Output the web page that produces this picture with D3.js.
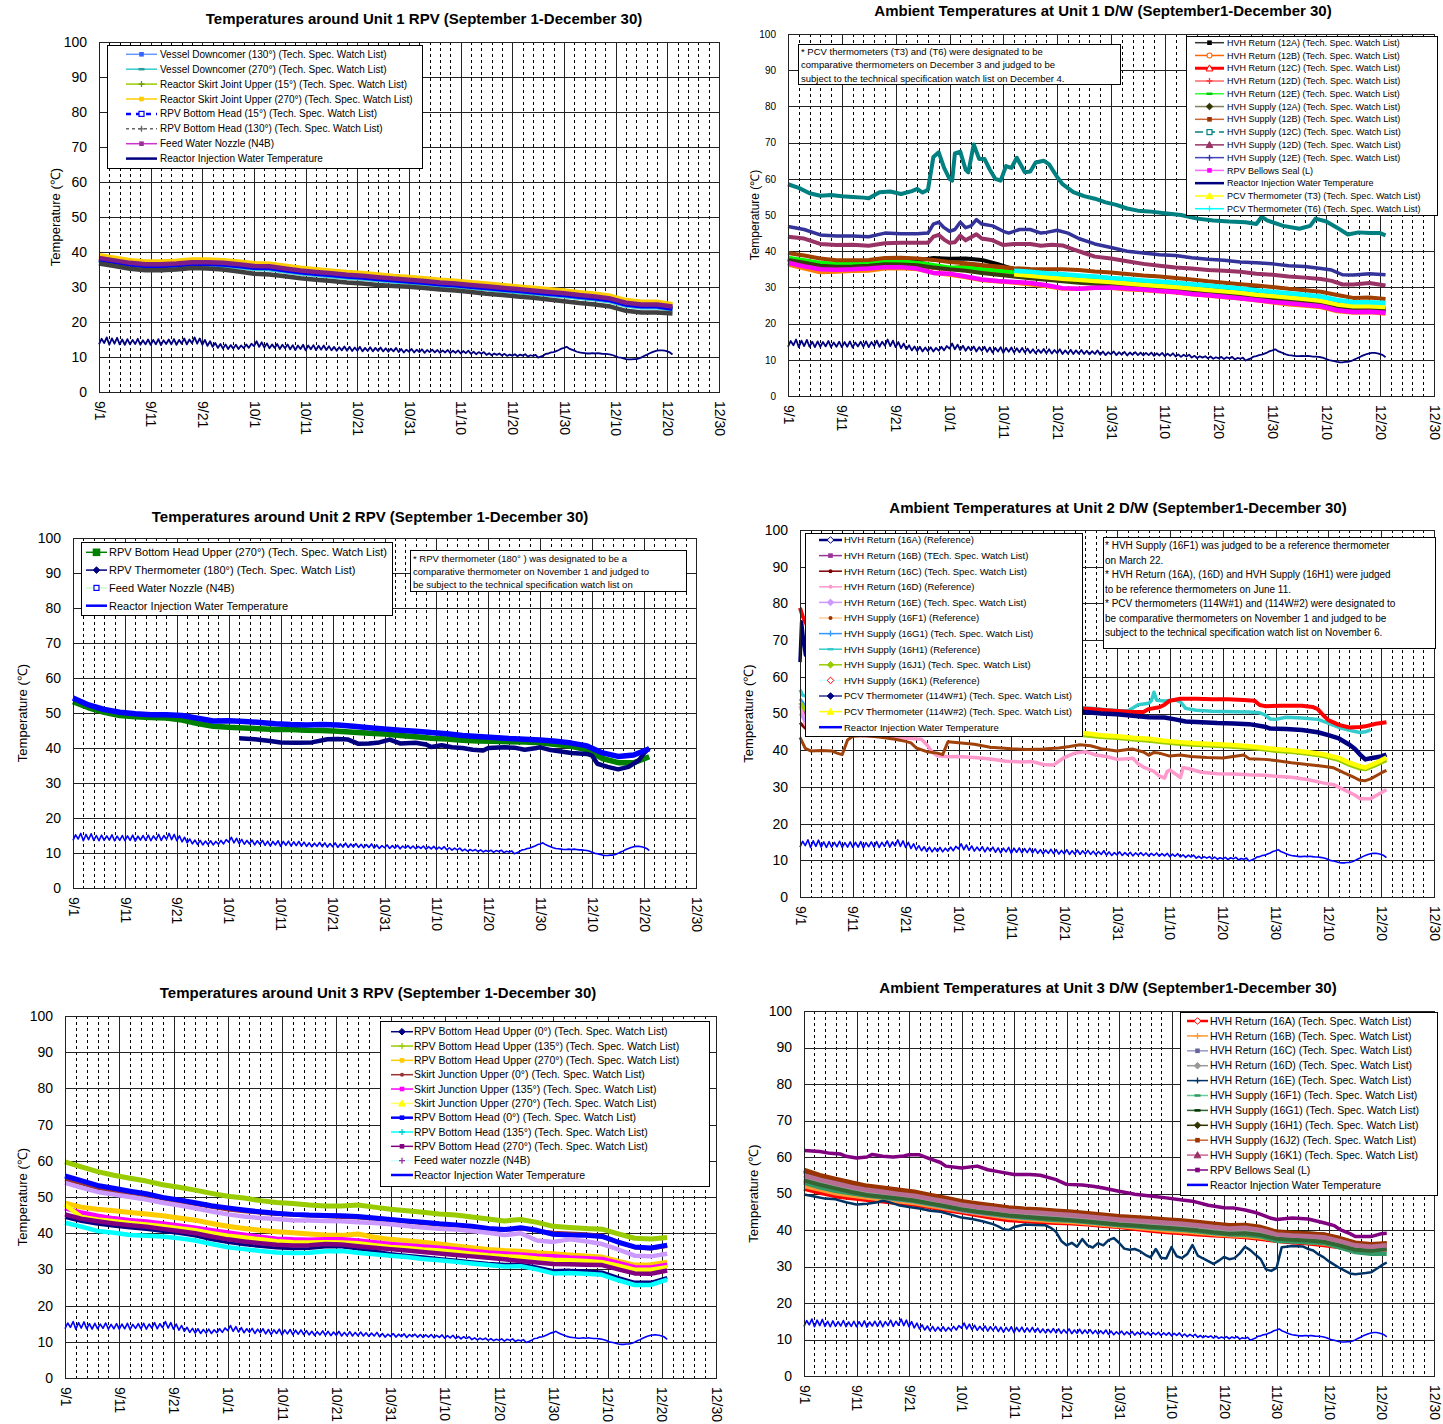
<!DOCTYPE html>
<html>
<head>
<meta charset="utf-8">
<title>Temperatures around Units 1-3</title>
<script src="https://d3js.org/d3.v7.min.js"></script>
<style>
  body { margin: 0; background: #fff; }
  svg { display: block; font-family: "Liberation Sans", Arial, sans-serif; }
</style>
</head>
<body>
<div id="chart"></div>
<script>
// ---- shared axis labels ----
const tickLabels = ["9/1","9/11","9/21","10/1","10/11","10/21","10/31","11/10","11/20","11/30","12/10","12/20","12/30"];
const yTicks = [0,10,20,30,40,50,60,70,80,90,100];
// sample days (days after 9/1) for most series
const days3 = [0,3,6,9,12,15,18,21,24,27,30,33,36,39,42,45,48,51,54,57,60,63,66,69,72,75,78,81,84,87,90,93,96,99,102,105,108,111];

// reactor injection water temperature, every half day from 9/1 (same gauge in every panel)
const injWater = [
 13.6,15.2, 14.0,15.6, 13.5,15.3, 13.8,15.5, 13.6,15.0, 13.5,15.1, 13.6,14.9, 13.7,15.2, 13.5,14.8, 13.6,15.0,
 13.5,14.9, 13.6,15.1, 13.4,14.8, 13.7,15.0, 13.6,15.1, 13.5,14.9, 13.8,15.3, 13.6,15.0, 13.9,15.6, 13.8,15.3,
 13.5,14.9, 13.2,14.5, 12.9,14.0, 12.6,13.7, 12.4,13.6, 12.3,13.4, 12.4,13.5, 12.3,13.3, 12.5,13.6, 12.6,13.8,
 13.1,14.5, 12.9,14.2, 12.7,13.9, 12.5,13.6, 12.6,13.7, 12.3,13.5, 12.5,13.6, 12.2,13.4, 12.0,13.3, 12.3,13.5,
 11.9,13.3, 12.2,13.4, 12.0,13.2, 12.1,13.3, 12.0,13.1, 11.9,12.9, 11.8,12.8, 11.9,13.0, 11.8,12.9, 11.7,12.7,
 11.8,12.9, 11.6,12.6, 11.7,12.8, 11.6,12.6, 11.7,12.7, 11.6,12.5, 11.5,12.4, 11.6,12.6, 11.4,12.3, 11.3,12.1,
 11.5,12.3, 11.3,12.1, 11.4,12.2, 11.2,12.0, 11.4,12.1, 11.3,12.0, 11.2,11.9, 11.3,12.0, 11.1,11.8, 11.2,11.9,
 11.0,11.7, 11.1,11.8, 10.9,11.5, 10.8,11.4, 10.9,11.4, 10.6,11.1, 10.5,11.0, 10.6,11.0, 10.4,10.9, 10.3,10.7,
 10.4,10.8, 10.2,10.7, 10.4,10.8, 10.1,10.5, 10.3,10.6, 9.8,10.1, 10.4,10.9, 11.0,11.3, 11.4,11.7, 12.0,12.4,
 12.6,12.9, 12.4,12.1, 11.8,11.5, 11.3,11.2, 11.1,11.0, 11.0,11.1, 11.0,11.1, 11.0,10.9, 10.9,10.8, 10.7,10.5,
 10.2,9.9, 9.8,9.6, 9.4,9.3, 9.3,9.4, 9.4,9.6, 9.9,10.3, 10.6,11.0, 11.3,11.6, 11.8,11.9, 11.9,11.8,
 11.6,11.3, 10.7
];

// ---- Unit 1 RPV ----
const u1Downcomer130 = [37.6,36.9,36.2,35.8,35.8,36.0,36.4,36.4,36.2,35.8,35.3,35.2,34.6,34.0,33.6,33.2,32.8,32.5,32.1,31.7,31.4,31.0,30.6,30.3,29.9,29.5,29.1,28.7,28.3,27.9,27.5,27.0,26.6,26.0,24.8,24.3,24.3,23.7];
const u1Downcomer270 = [37.5,36.8,36.1,35.7,35.7,35.9,36.3,36.3,36.1,35.7,35.2,35.1,34.5,33.9,33.5,33.1,32.7,32.4,32.0,31.6,31.3,30.9,30.5,30.2,29.8,29.4,29.0,28.6,28.2,27.8,27.4,26.9,26.5,25.9,24.7,24.2,24.2,23.6];
const u1Skirt15 = [38.1,37.4,36.7,36.3,36.3,36.5,36.9,36.9,36.7,36.3,35.8,35.7,35.1,34.5,34.1,33.7,33.3,33.0,32.6,32.2,31.9,31.5,31.1,30.8,30.4,30.0,29.6,29.2,28.8,28.4,28.0,27.5,27.1,26.5,25.3,24.8,24.8,24.1];
const u1Skirt270 = [39.0,38.3,37.6,37.2,37.2,37.4,37.8,37.8,37.6,37.2,36.7,36.6,36.0,35.4,35.0,34.6,34.2,33.9,33.5,33.1,32.8,32.4,32.0,31.7,31.3,30.9,30.5,30.1,29.7,29.3,28.9,28.4,28.0,27.4,26.2,25.7,25.7,25.0];
const u1BottomHead15 = [37.8,37.1,36.4,36.0,36.0,36.2,36.6,36.6,36.4,36.0,35.5,35.4,34.8,34.2,33.8,33.4,33.0,32.7,32.3,31.9,31.6,31.2,30.8,30.5,30.1,29.7,29.3,28.9,28.5,28.1,27.7,27.2,26.8,26.2,25.0,24.5,24.5,23.8];
const u1BottomHead130 = [36.7,36.0,35.2,34.8,34.8,35.0,35.4,35.3,35.0,34.4,33.8,33.6,33.1,32.5,32.1,31.7,31.3,31.0,30.6,30.3,30.1,29.7,29.3,29.0,28.6,28.1,27.7,27.3,26.9,26.4,25.9,25.4,25.0,24.4,23.2,22.7,22.7,22.4];
const u1FeedWater = [38.3,37.6,36.9,36.5,36.5,36.7,37.1,37.1,36.9,36.5,36.0,35.9,35.3,34.7,34.3,33.9,33.5,33.2,32.8,32.4,32.1,31.7,31.3,31.0,30.6,30.2,29.8,29.4,29.0,28.6,28.2,27.7,27.3,26.7,25.5,25.0,25.0,24.4];

// ---- Unit 1 D/W ----
const u1Ret12A = [38.0,37.2,36.5,36.2,36.3,36.5,37.0,36.8,37.4,38.1,37.9,38.0,37.6,36.4,35.0,34.2,33.6,33.1,32.7,32.3,31.9,31.5,31.1,30.8,30.4,30.0,29.5,29.1,28.7,28.2,27.7,27.3,26.9,26.4,25.4,24.6,24.6,24.2];
const u1Ret12B = [36.3,35.2,34.2,34.3,34.5,34.6,35.2,35.3,35.0,34.0,33.5,32.8,32.0,31.6,31.3,30.8,30.3,29.6,29.6,29.8,29.8,29.4,29.2,28.9,28.6,28.1,27.7,27.3,26.9,26.4,25.8,25.3,24.9,24.5,23.4,23.0,23.1,22.7];
const u1Ret12C = [37.8,37.0,36.3,36.0,36.0,36.2,36.6,36.5,36.2,35.6,35.2,35.8,35.6,35.2,34.0,33.5,33.0,32.6,32.2,31.9,31.5,31.1,30.7,30.4,30.0,29.6,29.1,28.7,28.3,27.8,27.3,26.9,26.5,26.0,25.0,24.2,24.2,23.9];
const u1Ret12D = [37.5,36.7,36.0,35.7,35.7,35.9,36.3,36.2,35.9,35.3,34.9,35.0,34.8,34.4,33.6,33.2,32.7,32.3,31.9,31.6,31.2,30.8,30.4,30.1,29.7,29.3,28.8,28.4,28.0,27.5,27.0,26.6,26.2,25.7,24.7,23.9,23.9,23.6];
const u1Ret12E = [38.2,37.5,36.8,36.5,36.5,36.7,37.2,37.2,36.8,36.2,35.5,35.5,35.0,34.6,34.2,33.8,33.3,32.9,32.5,32.2,31.8,31.4,31.0,30.7,30.3,29.9,29.4,29.0,28.6,28.1,27.6,27.2,26.8,26.3,25.3,24.6,24.6,24.3];
const u1Sup12A = [37.6,36.8,36.0,35.7,35.8,36.0,36.4,36.3,36.1,35.5,35.0,34.6,34.0,33.5,33.0,32.5,32.1,31.7,31.3,31.0,30.7,30.3,29.9,29.6,29.2,28.8,28.4,28.0,27.6,27.1,26.7,26.3,25.9,25.4,24.4,23.9,23.9,23.6];
const u1Sup12B = [39.5,38.8,38.0,37.5,37.5,37.6,38.1,38.2,38.0,37.6,37.0,36.7,36.2,35.8,35.3,35.1,35.0,35.0,34.8,34.4,34.1,33.7,33.3,33.0,32.6,32.2,31.7,31.3,30.9,30.5,30.1,29.6,29.2,28.8,27.9,27.1,27.2,26.8];
const u1Sup12C = [[0,58.5],[2,57.5],[4,56],[6,55.3],[8,55.5],[10,55.2],[12,55.0],[14,54.8],[15,54.6],[17,56.3],[19,56.5],[21,55.8],[23,56.6],[24,57.2],[25,56.2],[26,57],[27,66],[28,67.3],[29,63],[30,60],[30.5,59.5],[31,67],[32,67.5],[33,62.5],[33.5,61.8],[34.5,69.5],[35.5,65.5],[36.5,65.5],[37.5,62.5],[38.5,60],[39.5,59.5],[40.5,63.5],[41.5,63],[42.5,65.8],[44,61.8],[45,62],[46,64.5],[47.5,65],[48.5,64],[50,60.5],[51,58.5],[53,56.3],[55,55.2],[57,54.5],[59,53.5],[61,52.8],[63,51.8],[65,51.2],[67,51],[70,50.5],[73,50],[76,49],[79,48.5],[82,48.2],[85,48],[87,47.5],[88,49.5],[89,48.5],[92,47],[95,46.2],[97,47],[98,49],[100,48.2],[102,46.5],[104,44.6],[106,45.2],[108,45],[110,45],[111,44.4]];
const u1Sup12D = [[0,44],[3,43.5],[6,42],[9,41.7],[12,41.8],[15,41.5],[18,42.2],[21,42.3],[24,42.3],[26,42.3],[27,44],[28,44.5],[29,43.2],[30,42.3],[31,42.5],[32,44.3],[33,43],[35,44.7],[36,43.5],[38,43],[40,41.7],[42,42],[45,42],[47,41.5],[49,41.8],[51,41.6],[53,40.5],[55,39.5],[57,38.5],[60,38],[63,37.2],[66,36.5],[69,36],[72,35.5],[75,35.2],[78,34.8],[81,34.6],[84,34.3],[87,33.8],[90,33.5],[93,33],[96,32.7],[99,32.3],[101,31.8],[103,30.8],[105,30.8],[108,31.2],[111,30.5]];
const u1Sup12E = [[0,46.8],[3,46],[6,44.5],[9,44.2],[12,44.2],[15,44],[18,45],[21,44.8],[24,44.8],[26,45],[27,47.5],[28,48],[29,46.5],[30,45.5],[31,46],[32,48],[33,46.5],[34,47],[35,48.7],[36,47.5],[38,47],[40,45.5],[41,45],[43,46],[45,46],[47,45],[48,45.2],[50,45.8],[52,45],[54,43.5],[57,42],[60,41],[63,40],[66,39.5],[69,39],[72,38.8],[75,38.2],[78,37.8],[81,37.5],[84,37],[87,36.8],[90,36.5],[93,36],[96,35.8],[99,35.2],[101,34.8],[103,33.5],[105,33.4],[108,33.8],[111,33.5]];
const u1Bellows = [36.8,35.8,35.0,34.9,35.0,35.2,35.6,35.6,35.2,34.0,33.8,33.0,32.2,31.8,31.5,31.2,30.6,29.8,29.6,29.9,30.0,29.7,29.4,29.0,28.7,28.2,27.8,27.4,27.0,26.5,26.0,25.6,25.2,24.8,23.7,23.2,23.3,23.0];
const u1PcvT3 = [33.6,33.2,32.8,32.4,32.1,31.8,31.5,31.1,30.7,30.4,30.1,29.7,29.3,28.9,28.5,28.0,27.6,27.2,26.8,26.3,25.3,24.8,24.8,24.6]; // from 10/13
const u1PcvT6 = [34.6,34.3,33.9,33.6,33.3,33.0,32.6,32.3,31.9,31.6,31.3,30.9,30.5,30.1,29.7,29.2,28.8,28.4,28.0,27.5,26.5,25.9,25.9,25.7]; // from 10/13

// ---- Unit 2 RPV ----
const u2BottomHeadUpper270 = [53.2,51.5,50.2,49.3,48.9,48.7,48.6,48.0,47.0,46.2,45.9,45.7,45.5,45.3,45.3,45.1,45.0,44.8,44.5,44.2,44.0,43.6,43.2,42.8,42.6,42.2,42.0,41.9,41.8,41.7,41.5,41.0,40.5,39.5,37.0,35.8,35.8,37.5];
const u2Thermo180 = [[32,42.8],[35,42.5],[38,42.0],[40,41.6],[43,41.5],[46,41.6],[49,42.5],[51,42.6],[53,42.4],[55,41.2],[57,41.3],[59,41.6],[61,42.4],[63,41.3],[66,41.5],[68,41.0],[69,40.3],[71,40.8],[73,40.2],[75,40.0],[77,39.5],[79,39.3],[80,40.0],[83,40.2],[85,40.1],[87,39.5],[89,39.9],[90,40.2],[92,39.4],[94,39.0],[96,38.6],[99,38.3],[100,37.8],[101,35.5],[103,34.6],[105,33.9],[107,34.6],[109,36.5],[110,38.5],[111,40.0]];
const u2FeedWater = [54.3,52.3,51.0,50.2,49.8,49.5,49.5,49.3,48.5,47.7,47.8,47.6,47.3,46.9,46.7,46.6,46.7,46.6,46.2,45.8,45.4,45.1,44.8,44.4,44.1,43.6,43.3,43.0,42.7,42.5,42.3,41.9,41.4,40.6,38.6,37.6,38.0,39.8];

// ---- Unit 2 D/W ----
const u2Ret16A = [[0,64],[0.3,75],[0.6,71],[1,66],[4,60],[10,56],[20,53],[30,52],[40,51.5],[45,51.2]];
const u2Ret16B = [[0,52],[1,50],[10,47],[20,46],[30,46],[40,45.5],[45,45.3]];
const u2Ret16C = [[0,47.5],[1,46],[10,45],[20,45],[30,45],[40,45],[45,44.8]];
const u2Ret16D = [[0,52],[0.5,50],[1,47],[3,45],[6,44.5],[9,44.2],[11,44],[14,43.8],[18,43.5],[21,43.2],[23,43],[24,41.5],[25,39.5],[26,38.5],[28,38.2],[30,38.3],[33,38.0],[36,37.6],[39,37.0],[42,36.8],[44,36.9],[46,36.1],[48,36.0],[49,37.0],[50,38.0],[52,39.2],[54,39.6],[56,38.7],[58,38.3],[60,37.5],[62,37.7],[63,37.8],[64,36.3],[65,35.4],[67,34.2],[68,33.0],[69,32.4],[69.5,34.2],[70,34.6],[71,33.6],[72,32.5],[72.5,35.3],[74,34.8],[76,34.0],[79,33.6],[82,33.5],[85,33.3],[88,33.2],[90,32.9],[93,32.6],[96,32.0],[99,31.1],[101,30.6],[103,29.2],[105,27.8],[106,26.8],[108,26.8],[110,28.4],[111,29.3]];
const u2Ret16E = [[0,50],[1,48],[10,46.5],[20,46],[30,45.8],[40,45.5],[48,45.0],[51,44.8],[52,44.6]];
const u2Sup16F1 = [[0,43.5],[0.5,42],[1,40.5],[2,39.8],[4,39.9],[6,39.8],[7,39.2],[8,38.8],[9,42.8],[10,43.8],[12,44],[15,43.6],[18,43],[20,42.4],[21,42],[22,40.6],[24,39.6],[26,39.2],[27,38.8],[28,42.3],[30,42.0],[33,41.6],[36,40.8],[40,40.4],[43,40.2],[46,40.3],[49,40.6],[51,41.0],[53,41.5],[55,41.2],[57,40.4],[60,39.8],[62,40.2],[63,40.3],[65,39.5],[66,38.6],[67,39.4],[68,39.2],[70,38.4],[72,38.7],[74,38.3],[77,38.0],[80,37.9],[83,38.5],[84,38.7],[85,37.7],[88,37.5],[90,37.2],[93,36.6],[96,36.1],[99,35.6],[101,35.2],[103,33.8],[105,32.5],[106,31.8],[107,31.7],[108,32.2],[110,33.8],[111,34.5]];
const u2Sup16G1 = [[0,54],[1,52],[10,49],[20,48],[30,47],[40,46.5],[45,46]];
const u2Sup16H1 = [[0,56.5],[0.5,55],[3,54],[20,53],[40,52],[51,51.6],[55,51.4],[58,51],[60,50.8],[62,50.7],[63,51.5],[64,52.4],[66,52.8],[66.5,53.5],[67,55.8],[67.5,53.6],[69,53.4],[71,53.7],[72,53.2],[73,51.4],[75,50.9],[78,50.6],[82,50.5],[85,50.4],[87,50.2],[88,49.6],[89,48.5],[90,48.4],[92,49],[95,48.8],[98,48.4],[100,47.4],[102,46.2],[104,45.4],[106,44.8],[107,45],[108,45.5]];
const u2Sup16J1 = [[0,53],[1,51],[5,48],[15,47],[25,46],[35,45.5],[42,44.3],[45,44.3],[48,44.2],[51,44.5],[54,44.0],[57,43.6],[60,43.3],[63,42.9],[66,42.6],[69,42.1],[72,41.7],[75,41.4],[78,41.2],[81,41.0],[84,40.7],[87,40.3],[90,39.8],[93,39.5],[96,39.0],[99,38.4],[102,37.3],[104,36.0],[106,35.0],[107,34.8],[109,35.9],[111,37.3]];
const u2Sup16K1 = [[0,78.8],[0.5,76.5],[2,72],[5,66],[10,60],[15,57],[20,55],[30,53],[40,52],[51,51.8],[52,51.5],[55,51.2],[58,50.9],[60,50.7],[63,50.4],[65,50.4],[66,51.2],[68,51.7],[69,52.4],[70,53.5],[72,54.0],[75,54.0],[78,53.9],[81,53.9],[84,53.7],[86,53.5],[87,52.3],[88,52.0],[91,52.1],[95,52.1],[97,51.8],[98,51.2],[99,49.6],[100,48.2],[102,46.9],[104,46.2],[106,46.3],[107,46.5],[109,47.2],[111,47.6]];
const u2Pcv114W1 = [[45,51.2],[48,51.0],[51,50.8],[54,50.4],[57,50.0],[60,49.8],[63,49.4],[66,49.0],[69,48.9],[71,48.4],[73,47.8],[76,47.6],[79,47.4],[82,47.3],[85,47.1],[88,46.4],[89,45.9],[92,45.8],[95,45.5],[98,44.9],[100,44.1],[102,43.2],[104,41.5],[105,40.4],[106,38.8],[107,37.5],[108,37.8],[110,38.3],[111,38.8]];
const u2Pcv114W2 = [[45,45.6],[48,45.4],[51,45.2],[54,44.6],[57,44.1],[60,43.8],[63,43.4],[66,43.1],[69,42.6],[72,42.2],[75,41.9],[78,41.7],[81,41.5],[84,41.2],[87,40.8],[90,40.3],[93,40.0],[96,39.5],[99,38.9],[102,37.9],[104,36.6],[106,35.6],[107,35.3],[109,36.5],[111,38.0]];

// ---- Unit 3 RPV ----
const u3BHU0 = [44.3,43.2,42.5,41.9,41.4,41.0,40.5,39.9,39.2,38.2,37.4,36.8,36.3,35.9,35.7,35.8,36.2,36.2,35.6,35.1,34.4,33.9,33.5,33.0,32.6,32.1,31.7,31.4,31.5,30.7,29.7,29.8,29.6,29.3,27.8,26.5,26.5,27.8];
const u3BHU135 = [59.7,58.3,57.0,56.0,55.2,54.4,53.4,52.7,51.9,51.0,50.2,49.7,49.0,48.5,48.2,47.8,47.5,47.5,47.8,47.2,46.6,46.2,45.8,45.3,45.0,44.5,43.9,43.4,43.8,43.0,41.9,41.6,41.3,41.1,39.8,38.6,38.4,38.8];
const u3BHU270 = [48.3,47.2,46.6,46.2,45.7,45.3,44.8,44.2,43.6,42.7,41.9,41.3,40.8,40.4,40.1,39.8,39.5,39.4,39.8,38.9,38.3,37.9,37.5,37.0,36.5,36.0,35.5,35.2,35.0,34.6,34.3,34.0,33.7,33.4,32.3,31.2,31.3,32.0];
const u3SJU0 = [54.8,53.7,52.4,51.6,51.0,50.4,49.5,48.7,48.0,47.2,46.5,46.0,45.6,45.2,45.0,44.8,44.6,44.4,44.3,43.9,43.5,43.1,42.7,42.3,42.0,41.6,41.1,40.8,41.2,40.7,40.2,40.0,39.8,39.4,37.6,36.0,35.7,36.4];
const u3SJU135 = [46.9,45.7,44.8,44.1,43.6,43.2,42.7,42.1,41.5,40.8,40.2,39.6,39.0,38.5,38.3,38.2,38.3,38.3,38.0,37.5,37.0,36.7,36.3,36.0,35.6,35.1,34.7,34.4,34.1,33.8,33.6,33.3,33.1,32.9,31.8,30.6,30.5,31.3];
const u3SJU270 = [47.8,44.5,43.8,43.3,42.8,42.4,41.9,41.4,40.8,40.0,39.3,38.8,38.3,37.8,37.5,37.4,37.5,37.4,37.2,36.7,36.2,35.9,35.5,35.2,34.8,34.3,33.9,33.6,33.4,33.0,32.7,32.5,32.3,32.0,31.0,29.9,29.9,30.6];
const u3BH0 = [55.8,54.5,53.2,52.4,51.6,50.9,49.9,49.2,48.4,47.6,47.0,46.4,45.9,45.5,45.2,45.0,44.9,44.8,44.6,44.2,43.8,43.4,43.0,42.6,42.3,41.9,41.3,41.0,41.5,40.8,39.7,39.5,39.4,39.1,37.5,36.2,35.9,36.7];
const u3BH135 = [42.9,41.8,40.6,40.1,39.5,39.3,39.1,38.6,38.0,37.0,36.1,35.6,35.1,34.7,34.5,34.6,35.0,35.1,34.6,34.2,33.8,33.4,32.9,32.5,32.1,31.6,31.2,30.8,30.9,30.0,28.9,29.0,28.8,28.5,27.0,25.7,25.7,27.2];
const u3BH270 = [45.2,44.0,43.3,42.7,42.2,41.8,41.2,40.6,40.0,39.1,38.3,37.7,37.2,36.8,36.6,36.7,37.0,36.9,36.4,36.0,35.6,35.2,34.8,34.4,34.0,33.6,33.2,32.8,32.3,31.9,31.5,31.4,31.3,31.2,30.0,28.9,28.8,29.7];
const u3FeedWater = [53.9,52.6,51.4,50.7,50.0,49.3,48.4,47.7,46.9,46.0,45.2,44.6,44.2,43.9,43.6,43.5,43.4,43.3,43.0,42.8,42.5,42.0,41.6,41.2,41.0,40.6,40.1,39.5,40.0,38.0,37.6,38.3,37.8,37.0,35.5,33.8,33.6,34.3];

// ---- Unit 3 D/W ----
const u3Ret16A = [51.3,50.2,49.2,48.7,48.2,47.8,47.3,46.9,46.2,45.4,44.8,44.0,43.3,42.7,42.4,42.1,41.9,41.8,41.5,41.1,40.8,40.3,39.8,39.4,39.1,38.8,38.5,38.3,38.0,37.5,37.0,36.6,36.3,35.8,35.3,34.7,34.4,34.6];
const u3Ret16B = [52.0,51.0,50.0,49.4,48.8,48.3,47.8,47.3,46.6,45.9,45.2,44.5,43.9,43.3,42.9,42.6,42.3,42.1,41.8,41.4,41.0,40.6,40.2,39.8,39.5,39.2,38.8,38.5,38.3,37.9,37.2,36.9,36.6,36.2,35.4,34.6,34.3,34.7];
const u3Ret16C = [53.3,52.2,51.2,50.2,49.4,48.9,48.3,47.8,47.0,46.2,45.3,44.7,44.2,43.7,43.3,43.1,42.8,42.5,42.1,41.7,41.3,41.0,40.7,40.4,40.1,39.7,39.2,38.8,39.0,38.4,37.4,37.1,36.9,36.6,35.6,34.5,34.2,34.7];
const u3Ret16D = [54.0,52.8,51.8,50.8,50.0,49.5,48.9,48.4,47.6,46.8,45.9,45.3,44.8,44.3,43.9,43.7,43.4,43.1,42.7,42.3,41.9,41.6,41.3,41.0,40.7,40.3,39.8,39.4,39.6,39.0,37.9,37.6,37.4,37.1,36.1,35.0,34.7,35.2];
const u3Ret16E = [[0,49.7],[2,49.2],[4,48.6],[6,48.4],[8,47.6],[10,47.0],[12,47.2],[14,47.6],[15,48.0],[16,47.7],[18,46.8],[20,46.3],[22,45.9],[24,45.3],[26,45.0],[28,44.2],[30,43.4],[32,43.0],[34,42.4],[36,41.6],[37,41.0],[38,40.2],[39,40.0],[40,40.8],[42,41.5],[44,41.4],[46,41.3],[47,40.6],[48,39.5],[49,37.0],[50,35.8],[51,36.5],[52,35.4],[53,37.5],[54,35.8],[55,35.2],[56,36.4],[57,35.8],[58,37.2],[59,37.8],[60,36.5],[61,34.9],[62,34.6],[63,34.8],[64,34.2],[65,33.2],[66,32.5],[67,34.8],[68,32.4],[69,32.2],[70,35.3],[71,32.8],[72,32.3],[73,33.4],[74,35.9],[75,33.0],[76,32.2],[78,30.7],[79,31.6],[80,32.6],[81,32.0],[82,32.3],[83,33.6],[84,35.4],[85,34.5],[86,33.2],[87,32.0],[88,29.2],[89,28.8],[90,29.6],[91,35.3],[93,35.6],[95,35.5],[96,34.8],[97,34.4],[98,33.3],[99,32.5],[100,31.4],[102,29.6],[104,28.1],[105,27.9],[107,28.2],[108,28.4],[109,29.3],[110,30.3],[111,31.1]];
const u3Sup16F1 = [52.9,51.6,50.7,50.0,49.4,48.9,48.4,47.9,47.1,46.4,45.7,45.0,44.4,43.8,43.4,43.0,42.7,42.5,42.1,41.7,41.3,41.0,40.6,40.3,40.0,39.6,39.1,38.8,38.6,38.2,37.0,36.8,36.6,36.4,35.2,33.9,33.4,33.4];
const u3Sup16G1 = [53.6,52.4,51.4,50.4,49.6,49.1,48.6,48.1,47.3,46.5,45.6,45.0,44.5,44.0,43.6,43.3,43.0,42.7,42.3,41.9,41.5,41.2,40.9,40.6,40.3,39.9,39.4,39.0,39.1,38.6,37.6,37.3,37.1,36.8,35.8,34.6,34.3,34.8];
const u3Sup16H1 = [56.0,54.6,53.6,52.6,51.7,51.2,50.6,50.1,49.2,48.4,47.5,46.9,46.3,45.8,45.4,45.2,44.9,44.6,44.2,43.8,43.4,43.1,42.8,42.5,42.2,41.8,41.3,40.9,41.0,40.4,39.6,39.4,39.1,38.8,37.6,36.3,35.9,36.2];
const u3Sup16J2 = [56.5,55.0,54.0,53.0,52.1,51.6,51.0,50.5,49.6,48.8,47.9,47.3,46.7,46.2,45.8,45.6,45.3,45.0,44.6,44.2,43.8,43.5,43.2,42.9,42.6,42.2,41.7,41.3,41.4,40.8,39.5,39.2,39.0,38.8,37.8,36.5,36.1,36.4];
const u3Sup16K1 = [55.0,53.8,52.8,51.8,51.0,50.5,49.9,49.4,48.6,47.8,46.9,46.3,45.8,45.3,44.9,44.7,44.4,44.1,43.7,43.3,42.9,42.6,42.3,42.0,41.7,41.3,40.8,40.4,40.6,40.0,38.8,38.5,38.3,38.0,37.0,35.8,35.4,35.8];
const u3Bellows = [[0,61.8],[3,61.5],[5,61.0],[7,60.8],[8,60.2],[10,59.7],[12,60.0],[13,60.7],[15,60.2],[17,60.0],[19,60.3],[20,60.6],[22,60.6],[24,59.5],[26,58.5],[27,57.5],[30,57.0],[33,57.5],[35,56.5],[37,56.0],[40,55.2],[43,55.2],[45,55.0],[47,54.2],[48,53.8],[50,52.5],[53,52.3],[55,52.0],[57,51.5],[60,50.6],[63,49.8],[66,49.3],[69,48.8],[72,48.2],[74,47.9],[77,46.8],[80,46.1],[82,46.0],[84,45.5],[86,44.8],[87,44.3],[89,43.2],[90,42.9],[93,43.3],[96,43.0],[99,42.0],[101,41.2],[102,40.2],[104,39.0],[105,38.2],[108,38.2],[110,39.0],[111,39.1]];

// ---- helpers ----
const onGrid = (vals, start = 0) => vals.map((v, i) => [days3[start + i], v]);
const injPts = injWater.map((v, i) => [i / 2, v]);
const base = Date.UTC(2012, 8, 1);
const toDate = d => new Date(base + d * 864e5);
const tickDates = tickLabels.map(s => { const [m, d] = s.split("/").map(Number); return new Date(Date.UTC(2012, m - 1, d)); });

const INJ = "Reactor Injection Water Temperature";
const TS = "(Tech. Spec. Watch List)";

const panels = [
  { title: "Temperatures around Unit 1 RPV (September 1-December 30)", tx: 424, ty: 24,
    x0: 99, x1: 719, yTop: 42, yBot: 392, yLabX: 55, yFont: 14, yTitleFont: 13,
    legend: { x: 107, y: 45, w: 315, h: 123, first: 54.3, step: 14.9, lx0: 126, lx1: 157, tx: 160, font: 10 },
    series: [
      { name: "Vessel Downcomer (130°) " + TS, data: onGrid(u1Downcomer130), color: "#6699FF", w: 4.5, lc: "#6699FF", marker: "square", mc: "#3366FF" },
      { name: "Vessel Downcomer (270°) " + TS, data: onGrid(u1Downcomer270), color: "#33CCCC", w: 4.5, lc: "#33CCCC", marker: "dash", mc: "#339999" },
      { name: "Reactor Skirt Joint Upper (15°) " + TS, data: onGrid(u1Skirt15), color: "#99CC00", w: 4.5, lc: "#99CC00", marker: "plus", mc: "#669900" },
      { name: "Reactor Skirt Joint Upper (270°) " + TS, data: onGrid(u1Skirt270), color: "#FFCC00", w: 5, lc: "#FFCC00", marker: "square", mc: "#FFCC00" },
      { name: "RPV Bottom Head (15°) " + TS, data: onGrid(u1BottomHead15), color: "#0000FF", w: 4.5, lc: "#0000FF", lw: 2.5, dash: "5,5", marker: "sqHollow", mc: "#0000FF" },
      { name: "RPV Bottom Head (130°) " + TS, data: onGrid(u1BottomHead130), color: "#404040", w: 4.5, lc: "#666666", dash: "3,3", marker: "plus", mc: "#666666" },
      { name: "Feed Water Nozzle (N4B)", data: onGrid(u1FeedWater), color: "#7F1F86", w: 4.5, lc: "#CC33CC", marker: "square", mc: "#993399" },
      { name: INJ, data: injPts, color: "#000080", w: 1.8, lc: "#000080", lw: 2.5 }
    ] },
  { title: "Ambient Temperatures at Unit 1 D/W (September1-December 30)", tx: 1103, ty: 16,
    x0: 788, x1: 1434, yTop: 34, yBot: 396, yLabX: 755, yFont: 10, yTitleFont: 12,
    legend: { x: 1186, y: 36, w: 251, h: 179, first: 42.7, step: 12.77, lx0: 1195, lx1: 1224, tx: 1227, font: 9 },
    note: { x: 798, y: 44, w: 322, h: 40, first: 51.7, step: 13.3, tx: 801, font: 9.5, lines: [
      "* PCV thermometers (T3) and (T6) were designated to be",
      "comparative thermometers on December 3 and judged to be",
      "subject to the technical specification watch list on December 4."] },
    series: [
      { name: "HVH Return (12A) " + TS, data: onGrid(u1Ret12A), color: "#000000", w: 4, lc: "#333333", marker: "square", mc: "#000000" },
      { name: "HVH Return (12B) " + TS, data: onGrid(u1Ret12B), color: "#FF8000", w: 4, lc: "#FF6600", marker: "circleHollow", mc: "#FF6600" },
      { name: "HVH Return (12C) " + TS, data: onGrid(u1Ret12C), color: "#FF0000", w: 4, lc: "#FF0000", lw: 3, marker: "triHollow", mc: "#FF0000" },
      { name: "HVH Return (12D) " + TS, data: onGrid(u1Ret12D), color: "#FF5050", w: 3.5, lc: "#FF6666", marker: "plus", mc: "#FF3333" },
      { name: "HVH Return (12E) " + TS, data: onGrid(u1Ret12E), color: "#00FF00", w: 4, lc: "#33FF33", marker: "dash", mc: "#00CC00" },
      { name: "HVH Supply (12A) " + TS, data: onGrid(u1Sup12A), color: "#3A3A10", w: 4, lc: "#808060", marker: "diamond", mc: "#333300" },
      { name: "HVH Supply (12B) " + TS, data: onGrid(u1Sup12B), color: "#A04000", w: 4, lc: "#CC6633", marker: "square", mc: "#993300" },
      { name: "HVH Supply (12C) " + TS, data: u1Sup12C, color: "#008080", w: 4, lc: "#008080", dash: "8,4", marker: "sqHollow", mc: "#008080" },
      { name: "HVH Supply (12D) " + TS, data: u1Sup12D, color: "#993366", w: 4, lc: "#993366", marker: "triangle", mc: "#993366" },
      { name: "HVH Supply (12E) " + TS, data: u1Sup12E, color: "#333399", w: 3.5, lc: "#4444BB", marker: "plus", mc: "#3333AA" },
      { name: "RPV Bellows Seal (L)", data: onGrid(u1Bellows), color: "#FF00FF", w: 4.5, lc: "#FF66FF", marker: "square", mc: "#FF00FF" },
      { name: INJ, data: injPts, color: "#000080", w: 1.8, lc: "#000080", lw: 2.5 },
      { name: "PCV Thermometer (T3) " + TS, data: onGrid(u1PcvT3, 14), color: "#FFFF00", w: 4.5, lc: "#FFFF00", marker: "triangle", mc: "#FFFF00" },
      { name: "PCV Thermometer (T6) " + TS, data: onGrid(u1PcvT6, 14), color: "#00FFFF", w: 4.5, lc: "#00FFFF", marker: "plus", mc: "#00FFFF" }
    ] },
  { title: "Temperatures around Unit 2 RPV (September 1-December 30)", tx: 370, ty: 522,
    x0: 73, x1: 696, yTop: 538, yBot: 888, yLabX: 22, yFont: 14, yTitleFont: 13,
    legend: { x: 81, y: 542, w: 311, h: 73, first: 552.3, step: 17.8, lx0: 86, lx1: 107, tx: 109, font: 11 },
    note: { x: 410, y: 550, w: 276, h: 41, first: 559, step: 13, tx: 413, font: 9.5, lines: [
      "* RPV thermometer (180°  ) was designated to be a",
      "comparative thermometer on November 1 and judged to",
      "be subject to the technical specification watch list on"] },
    series: [
      { name: "RPV Bottom Head Upper (270°) " + TS, data: onGrid(u2BottomHeadUpper270), color: "#008000", w: 5.5, lc: "#008000", marker: "bigSquare", mc: "#008000" },
      { name: "RPV Thermometer (180°) " + TS, data: u2Thermo180, color: "#000080", w: 4.5, lc: "#000080", marker: "diamond", mc: "#000080" },
      { name: "Feed Water Nozzle (N4B)", data: onGrid(u2FeedWater), color: "#0000FF", w: 5.5, lc: "#CCFFCC", marker: "sqHollow", mc: "#0000FF" },
      { name: INJ, data: injPts, color: "#0000FF", w: 1.6, lc: "#0000FF", lw: 2.5 }
    ] },
  { title: "Ambient Temperatures at Unit 2 D/W (September1-December 30)", tx: 1118, ty: 513,
    x0: 800, x1: 1434, yTop: 530, yBot: 897, yLabX: 748, yFont: 14, yTitleFont: 13,
    legend: { x: 805, y: 533, w: 277, h: 203, first: 540, step: 15.6, lx0: 819, lx1: 842, tx: 844, font: 9.5 },
    note: { x: 1103, y: 537, w: 332, h: 111, first: 545.5, step: 14.5, tx: 1105, font: 10, lines: [
      "* HVH Supply (16F1) was judged to be a reference thermometer",
      "on March 22.",
      "* HVH Return (16A), (16D) and HVH Supply (16H1) were judged",
      "to be reference thermometers on June 11.",
      "* PCV thermometers (114W#1) and (114W#2) were designated to",
      "be comparative thermometers on November 1 and judged to be",
      "subject to the technical specification watch list on November 6."] },
    series: [
      { name: "HVH Return (16A) (Reference)", data: u2Ret16A, color: "#000080", w: 3.5, lc: "#000080", lw: 2.5, marker: "diaHollow", mc: "#000080" },
      { name: "HVH Return (16B) (TEch. Spec. Watch List)", data: u2Ret16B, color: "#993399", w: 3, lc: "#993399", marker: "square", mc: "#993399" },
      { name: "HVH Return (16C) " + TS, data: u2Ret16C, color: "#800000", w: 3, lc: "#800000", marker: "dot", mc: "#800000" },
      { name: "HVH Return (16D) (Reference)", data: u2Ret16D, color: "#FF99CC", w: 3.5, lc: "#FF99CC", marker: "dot", mc: "#FF99CC" },
      { name: "HVH Return (16E) " + TS, data: u2Ret16E, color: "#CC99FF", w: 3, lc: "#CC99FF", marker: "diamond", mc: "#CC99FF" },
      { name: "HVH Supply (16F1) (Reference)", data: u2Sup16F1, color: "#A0400A", w: 3, lc: "#FFCC99", marker: "dot", mc: "#993300" },
      { name: "HVH Supply (16G1) " + TS, data: u2Sup16G1, color: "#3399FF", w: 3, lc: "#3399FF", marker: "plus", mc: "#3399FF" },
      { name: "HVH Supply (16H1) (Reference)", data: u2Sup16H1, color: "#33CCCC", w: 3.5, lc: "#33CCCC", marker: "dash", mc: "#33CCCC" },
      { name: "HVH Supply (16J1) " + TS, data: u2Sup16J1, color: "#99CC00", w: 4, lc: "#99CC00", marker: "diamond", mc: "#99CC00" },
      { name: "HVH Supply (16K1) (Reference)", data: u2Sup16K1, color: "#FF0000", w: 4, lc: "#CCFFFF", marker: "diaHollow", mc: "#FF0000" },
      { name: "PCV Thermometer (114W#1) " + TS, data: u2Pcv114W1, color: "#000080", w: 4.5, lc: "#333399", marker: "diamond", mc: "#000080" },
      { name: "PCV Thermometer (114W#2) " + TS, data: u2Pcv114W2, color: "#FFFF00", w: 4.5, lc: "#FFFF00", marker: "triangle", mc: "#FFFF00" },
      { name: INJ, data: injPts, color: "#0000FF", w: 1.6, lc: "#0000FF", lw: 2.5 }
    ] },
  { title: "Temperatures around Unit 3 RPV (September 1-December 30)", tx: 378, ty: 998,
    x0: 65, x1: 716, yTop: 1016, yBot: 1378, yLabX: 22, yFont: 14, yTitleFont: 13,
    legend: { x: 380, y: 1021, w: 329, h: 165, first: 1031.7, step: 14.33, lx0: 391, lx1: 413, tx: 414, font: 10.5 },
    series: [
      { name: "RPV Bottom Head Upper (0°) " + TS, data: onGrid(u3BHU0), color: "#000080", w: 3, lc: "#000080", marker: "diamond", mc: "#000080" },
      { name: "RPV Bottom Head Upper (135°) " + TS, data: onGrid(u3BHU135), color: "#99CC00", w: 5, lc: "#99CC00", marker: "plus", mc: "#99CC00" },
      { name: "RPV Bottom Head Upper (270°) " + TS, data: onGrid(u3BHU270), color: "#FFCC00", w: 5, lc: "#FFCC00", marker: "square", mc: "#FFCC00" },
      { name: "Skirt Junction Upper (0°) " + TS, data: onGrid(u3SJU0), color: "#993333", w: 3.5, lc: "#993333", marker: "dot", mc: "#993333" },
      { name: "Skirt Junction Upper (135°) " + TS, data: onGrid(u3SJU135), color: "#FF00FF", w: 4.5, lc: "#FF00FF", marker: "square", mc: "#FF00FF" },
      { name: "Skirt Junction Upper (270°) " + TS, data: onGrid(u3SJU270), color: "#FFFF00", w: 4.5, lc: "#FFFF66", marker: "triangle", mc: "#FFFF00" },
      { name: "RPV Bottom Head (0°) " + TS, data: onGrid(u3BH0), color: "#0000FF", w: 5, lc: "#0000FF", lw: 2.5, marker: "square", mc: "#0000FF" },
      { name: "RPV Bottom Head (135°) " + TS, data: onGrid(u3BH135), color: "#00FFFF", w: 4.5, lc: "#00FFFF", marker: "plus", mc: "#00CCCC" },
      { name: "RPV Bottom Head (270°) " + TS, data: onGrid(u3BH270), color: "#800080", w: 4.5, lc: "#800080", marker: "square", mc: "#800080" },
      { name: "Feed water nozzle (N4B)", data: onGrid(u3FeedWater), color: "#CC99FF", w: 4.5, lc: "#CCFFFF", marker: "plus", mc: "#993399" },
      { name: INJ, data: injPts, color: "#0000FF", w: 1.6, lc: "#0000FF", lw: 2.5 }
    ] },
  { title: "Ambient Temperatures at Unit 3 D/W (September1-December 30)", tx: 1108, ty: 993,
    x0: 804, x1: 1434, yTop: 1011, yBot: 1376, yLabX: 753, yFont: 14, yTitleFont: 13,
    legend: { x: 1180, y: 1012, w: 257, h: 183, first: 1021, step: 14.9, lx0: 1187, lx1: 1208, tx: 1210, font: 10.5 },
    series: [
      { name: "HVH Return (16A) " + TS, data: onGrid(u3Ret16A), color: "#FF0000", w: 4, lc: "#FF0000", lw: 2.5, marker: "diaHollow", mc: "#FF0000" },
      { name: "HVH Return (16B) " + TS, data: onGrid(u3Ret16B), color: "#FF9933", w: 4, lc: "#FF9933", marker: "plus", mc: "#FF9933" },
      { name: "HVH Return (16C) " + TS, data: onGrid(u3Ret16C), color: "#8888BB", w: 4, lc: "#9999CC", marker: "square", mc: "#666699" },
      { name: "HVH Return (16D) " + TS, data: onGrid(u3Ret16D), color: "#999999", w: 4, lc: "#999999", marker: "diamond", mc: "#999999" },
      { name: "HVH Return (16E) " + TS, data: u3Ret16E, color: "#003366", w: 2.5, lc: "#003366", marker: "plus", mc: "#003366" },
      { name: "HVH Supply (16F1) " + TS, data: onGrid(u3Sup16F1), color: "#339966", w: 4, lc: "#66CC99", marker: "dash", mc: "#339966" },
      { name: "HVH Supply (16G1) " + TS, data: onGrid(u3Sup16G1), color: "#336633", w: 4, lc: "#336633", marker: "dash", mc: "#003300" },
      { name: "HVH Supply (16H1) " + TS, data: onGrid(u3Sup16H1), color: "#333300", w: 4, lc: "#333300", marker: "diamond", mc: "#333300" },
      { name: "HVH Supply (16J2) " + TS, data: onGrid(u3Sup16J2), color: "#993300", w: 4.5, lc: "#CC6633", marker: "square", mc: "#993300" },
      { name: "HVH Supply (16K1) " + TS, data: onGrid(u3Sup16K1), color: "#B86E92", w: 4.5, lc: "#CC6699", marker: "triangle", mc: "#993366" },
      { name: "RPV Bellows Seal (L)", data: u3Bellows, color: "#800080", w: 3.5, lc: "#800080", marker: "square", mc: "#800080" },
      { name: INJ, data: injPts, color: "#0000FF", w: 1.6, lc: "#0000FF", lw: 2.5 }
    ] }
];

const W = 1443, H = 1424;
const svg = d3.select("#chart").append("svg").attr("width", W).attr("height", H);
svg.append("rect").attr("width", W).attr("height", H).attr("fill", "#fff");

function drawMarker(g, type, cx, cy, color) {
  if (!type) return;
  if (type === "square" || type === "bigSquare") {
    const r = type === "bigSquare" ? 3.8 : 2.3;
    g.append("rect").attr("x", cx - r).attr("y", cy - r).attr("width", 2 * r).attr("height", 2 * r).attr("fill", color);
  } else if (type === "sqHollow") {
    g.append("rect").attr("x", cx - 2.5).attr("y", cy - 2.5).attr("width", 5).attr("height", 5)
      .attr("fill", "#fff").attr("stroke", color).attr("stroke-width", 1.2);
  } else if (type === "diamond" || type === "diaHollow") {
    const r = 3.3;
    g.append("path").attr("d", `M${cx},${cy - r}L${cx + r},${cy}L${cx},${cy + r}L${cx - r},${cy}Z`)
      .attr("fill", type === "diamond" ? color : "#fff").attr("stroke", color).attr("stroke-width", 1);
  } else if (type === "triangle" || type === "triHollow") {
    const r = 3.4;
    g.append("path").attr("d", `M${cx},${cy - r}L${cx + r},${cy + r * 0.8}L${cx - r},${cy + r * 0.8}Z`)
      .attr("fill", type === "triangle" ? color : "#fff").attr("stroke", color).attr("stroke-width", 1);
  } else if (type === "circleHollow") {
    g.append("circle").attr("cx", cx).attr("cy", cy).attr("r", 2.5).attr("fill", "#fff").attr("stroke", color).attr("stroke-width", 1.1);
  } else if (type === "dot") {
    g.append("circle").attr("cx", cx).attr("cy", cy).attr("r", 2).attr("fill", color);
  } else if (type === "plus") {
    g.append("path").attr("d", `M${cx - 3},${cy}H${cx + 3}M${cx},${cy - 3}V${cy + 3}`).attr("stroke", color).attr("stroke-width", 1.3);
  } else if (type === "dash") {
    g.append("path").attr("d", `M${cx - 3},${cy}H${cx + 3}`).attr("stroke", color).attr("stroke-width", 2.5);
  }
}

function drawPanel(p) {
  const g = svg.append("g");
  const x = d3.scaleUtc().domain([tickDates[0], tickDates[tickDates.length - 1]]).range([p.x0, p.x1]);
  const y = d3.scaleLinear().domain([0, 100]).range([p.yBot, p.yTop]);
  const crisp = v => Math.round(v) + 0.5;

  // dashed minor verticals every 2 days
  const minor = d3.range(2, 120, 2).filter(d => d % 10 !== 0).map(toDate);
  g.append("g").selectAll("line").data(minor).join("line")
    .attr("x1", d => crisp(x(d))).attr("x2", d => crisp(x(d)))
    .attr("y1", p.yTop).attr("y2", p.yBot)
    .attr("stroke", "#000").attr("stroke-width", 1).attr("stroke-dasharray", "3,3");
  // solid verticals
  g.append("g").selectAll("line").data(tickDates).join("line")
    .attr("x1", d => crisp(x(d))).attr("x2", d => crisp(x(d)))
    .attr("y1", p.yTop).attr("y2", p.yBot)
    .attr("stroke", "#222").attr("stroke-width", 1);
  // solid horizontals
  g.append("g").selectAll("line").data(yTicks).join("line")
    .attr("x1", p.x0).attr("x2", p.x1)
    .attr("y1", d => crisp(y(d))).attr("y2", d => crisp(y(d)))
    .attr("stroke", "#222").attr("stroke-width", 1);

  // series
  const line = d3.line().x(d => x(toDate(d[0]))).y(d => y(d[1]));
  p.series.forEach(s => {
    g.append("path").datum(s.data).attr("d", line)
      .attr("fill", "none").attr("stroke", s.color).attr("stroke-width", s.w)
      .attr("stroke-linejoin", "round");
  });

  // frame
  g.append("rect").attr("x", crisp(p.x0)).attr("y", crisp(p.yTop))
    .attr("width", Math.round(p.x1 - p.x0)).attr("height", Math.round(p.yBot - p.yTop))
    .attr("fill", "none").attr("stroke", "#222");

  // y axis
  const yAxis = g.append("g").attr("transform", `translate(${p.x0},0)`)
    .call(d3.axisLeft(y).tickValues(yTicks).tickSize(0).tickPadding(12));
  yAxis.select(".domain").remove();
  yAxis.selectAll("text").attr("font-size", p.yFont).attr("font-family", "Liberation Sans, Arial, sans-serif").attr("fill", "#000");

  // x axis, labels turned to read downward
  const xAxis = g.append("g").attr("transform", `translate(0,${p.yBot})`)
    .call(d3.axisBottom(x).tickValues(tickDates).tickFormat((d, i) => tickLabels[i]).tickSize(0));
  xAxis.select(".domain").remove();
  xAxis.selectAll("text")
    .attr("transform", "rotate(90)").attr("x", 9).attr("y", 0).attr("dy", "0.35em")
    .attr("text-anchor", "start").attr("font-size", 14)
    .attr("font-family", "Liberation Sans, Arial, sans-serif").attr("fill", "#000");

  // titles
  g.append("text").attr("x", p.tx).attr("y", p.ty).attr("text-anchor", "middle")
    .attr("font-size", 15).attr("font-weight", "bold").text(p.title);
  g.append("text").attr("transform", `translate(${p.yLabX},${(p.yTop + p.yBot) / 2}) rotate(-90)`)
    .attr("text-anchor", "middle").attr("dy", "0.35em").attr("font-size", p.yTitleFont)
    .text("Temperature (℃)");

  // legend
  const L = p.legend;
  const lg = g.append("g");
  lg.append("rect").attr("x", crisp(L.x)).attr("y", crisp(L.y)).attr("width", L.w).attr("height", L.h)
    .attr("fill", "#fff").attr("stroke", "#000");
  p.series.forEach((s, i) => {
    const cy = L.first + i * L.step;
    lg.append("line").attr("x1", L.lx0).attr("x2", L.lx1).attr("y1", cy).attr("y2", cy)
      .attr("stroke", s.lc).attr("stroke-width", s.lw || 1.5).attr("stroke-dasharray", s.dash || null);
    drawMarker(lg, s.marker, (L.lx0 + L.lx1) / 2, cy, s.mc);
    lg.append("text").attr("x", L.tx).attr("y", cy).attr("dy", "0.35em")
      .attr("font-size", L.font).attr("fill", "#000").text(s.name);
  });

  // note box
  if (p.note) {
    const N = p.note;
    g.append("rect").attr("x", crisp(N.x)).attr("y", crisp(N.y)).attr("width", N.w).attr("height", N.h)
      .attr("fill", "#fff").attr("stroke", "#000");
    N.lines.forEach((t, i) => {
      g.append("text").attr("x", N.tx).attr("y", N.first + i * N.step).attr("dy", "0.35em")
        .attr("font-size", N.font).attr("fill", "#000").text(t);
    });
  }
}

panels.forEach(drawPanel);
</script>
</body>
</html>
